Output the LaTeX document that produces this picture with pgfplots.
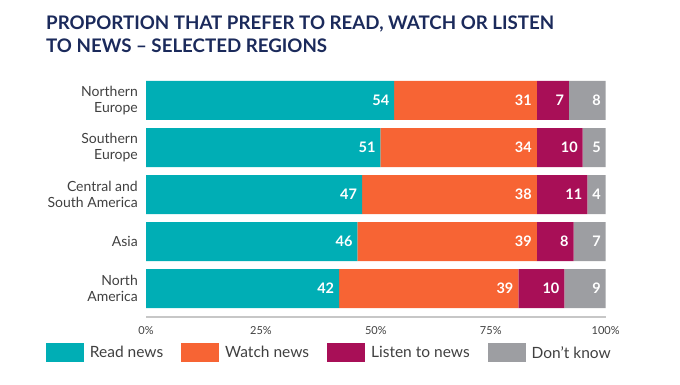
\documentclass[border=0pt]{standalone}
\usepackage{pgfplots}
\pgfplotsset{compat=1.18}
\usepackage{pgfplotstable}
\usepackage{fontspec}
\setmainfont{Lato}
\definecolor{cread}{HTML}{00AEB5}
\definecolor{cwatch}{HTML}{F76434}
\definecolor{clisten}{HTML}{A80F57}
\definecolor{cdk}{HTML}{9D9EA2}
\definecolor{navy}{HTML}{1B2A5B}
\definecolor{lab}{HTML}{404040}
\pgfplotstableread{
y read watch listen dk
4 54 31 7 8
3 51 34 10 5
2 47 38 11 4
1 46 39 8 7
0 42 39 10 9
}\datatab
\newcommand\seglabel{%
  \pgfmathfloattofixed{\pgfplotspointmeta}%
  \pgfmathsetlengthmacro\segw{\pgfmathresult*4.597pt}%
  \makebox[\segw][r]{\pgfmathprintnumber{\pgfplotspointmeta}\hspace{5pt}}}
\begin{document}
\begin{tikzpicture}[x=1pt,y=1pt]
\path[use as bounding box] (0,0) rectangle (680,385);
\node[anchor=base west, font=\fontsize{18.7}{22}\selectfont\bfseries, text=navy, inner sep=0pt] at (46,355.5) {PROPORTION THAT PREFER TO READ, WATCH OR LISTEN};
\node[anchor=base west, font=\fontsize{18.7}{22}\selectfont\bfseries, text=navy, inner sep=0pt] at (46,332) {TO NEWS – SELECTED REGIONS};
\begin{axis}[
  at={(146pt,68pt)}, anchor=south west,
  scale only axis, width=459.7pt, height=240pt,
  xbar stacked, bar width=39pt,
  xmin=0, xmax=100, ymin=-0.606, ymax=4.5,
  axis x line*=bottom, axis y line*=left,
  x axis line style={draw=black!22, line width=1.8pt, -},
  y axis line style={draw=none},
  major tick length=0pt,
  xtick={0,25,50,75,100},
  xticklabel={\pgfmathprintnumber{\tick}\%},
  xticklabel style={anchor=center, yshift=-14pt, font=\fontsize{11}{13}\selectfont, text=lab},
  ytick={0,1,2,3,4},
  yticklabels={{North\\America},{Asia},{Central and\\South America},{Southern\\Europe},{Northern\\Europe}},
  yticklabel style={anchor=east, inner sep=0pt, xshift=-8pt, align=right, font=\fontsize{14}{16}\selectfont, text=lab},
  /pgf/number format/assume math mode=true,
  point meta=explicit,
  nodes near coords={\seglabel},
  every node near coord/.append style={anchor=center, inner sep=0pt, font=\fontsize{14.5}{16}\selectfont\bfseries, text=white},
  clip=false,
  legend columns=4,
  legend style={at={(-0.2182,-0.15)}, anchor=west, draw=none, fill=none, inner sep=0pt,
    nodes={inner sep=0pt, font=\fontsize{15.5}{18}\selectfont, text=lab},
    /tikz/every odd column/.style={column sep=6pt},
    /tikz/every even column/.style={column sep=18pt}},
  legend image code/.code={\path[#1, draw=none] (0pt,-9.5pt) rectangle (38pt,9.5pt);},
]
\addplot[fill=cread, draw=none] table[x=read, y=y, meta=read] {\datatab};
\addplot[fill=cwatch, draw=none] table[x=watch, y=y, meta=watch] {\datatab};
\addplot[fill=clisten, draw=none] table[x=listen, y=y, meta=listen] {\datatab};
\addplot[fill=cdk, draw=none] table[x=dk, y=y, meta=dk] {\datatab};
\legend{Read news, Watch news, Listen to news, Don’t know}
\end{axis}
\end{tikzpicture}
\end{document}
